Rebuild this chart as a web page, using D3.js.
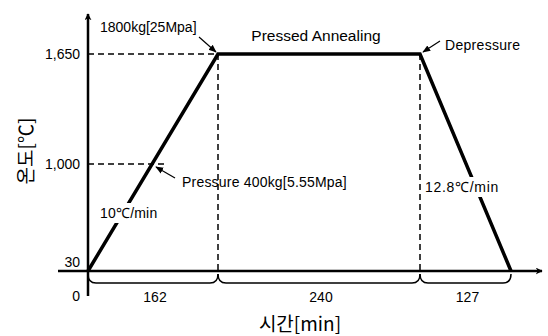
<!DOCTYPE html>
<html><head><meta charset="utf-8">
<script src="https://cdn.jsdelivr.net/npm/d3@7"></script>
<style>body{margin:0;background:#fff}svg{display:block}text{font-family:"Liberation Sans",Arial,sans-serif;fill:#000}</style>
</head><body><svg id="c" width="548" height="336"></svg>
<script>
// Data
const segments = [162, 240, 127];            // minutes per stage
const tempTicks = [30, 1000, 1650];          // °C tick values
const profileTime = [0, 162, 402, 529];      // cumulative time (min)
const profileTemp = [30, 1650, 1650, 30];    // temperature (°C)
const yTickLabels = ["30", "1,000", "1,650"];
const rampRates = ["10℃/min", "12.8℃/min"];

const svg = d3.select("#c");
// schematic (piecewise) scales
const x = d3.scaleLinear().domain(profileTime).range([88, 218, 420, 511]);
const y = d3.scaleLinear().domain(tempTicks).range([271, 164, 54]);

const defs = svg.append("defs");
defs.append("marker").attr("id","ah").attr("viewBox","0 0 10 10").attr("refX",9).attr("refY",5)
  .attr("markerWidth",7).attr("markerHeight",7).attr("orient","auto-start-reverse").attr("markerUnits","userSpaceOnUse")
  .append("path").attr("d","M0,0 L10,5 L0,10 L3,5 Z").attr("fill","#000");
defs.append("marker").attr("id","sa").attr("viewBox","0 0 10 10").attr("refX",9).attr("refY",5)
  .attr("markerWidth",8).attr("markerHeight",8).attr("orient","auto").attr("markerUnits","userSpaceOnUse")
  .append("path").attr("d","M0,1 L10,5 L0,9 Z").attr("fill","#000");

// dashed guides
const dash = svg.append("g").attr("stroke","#000").attr("stroke-width",1.5).attr("stroke-dasharray","6,4").attr("fill","none");
dash.append("line").attr("x1",x(0)).attr("x2",x(162)).attr("y1",y(1650)).attr("y2",y(1650));
const t1000 = d3.scaleLinear().domain([30,1650]).range([0,162])(1000);
dash.append("line").attr("x1",x(0)).attr("x2",x(t1000)).attr("y1",y(1000)).attr("y2",y(1000));
dash.append("line").attr("x1",x(162)).attr("x2",x(162)).attr("y1",y(1650)).attr("y2",y(30));
dash.append("line").attr("x1",x(402)).attr("x2",x(402)).attr("y1",y(1650)).attr("y2",y(30));

// axes
svg.append("line").attr("x1",x(0)).attr("x2",x(0)).attr("y1",296).attr("y2",14)
  .attr("stroke","#000").attr("stroke-width",2.5).attr("marker-end","url(#ah)");
svg.append("line").attr("x1",58).attr("x2",542).attr("y1",y(30)).attr("y2",y(30))
  .attr("stroke","#000").attr("stroke-width",2.5).attr("marker-end","url(#ah)");

// profile line
const pts = profileTime.map((t,i)=>[x(t), y(profileTemp[i])]);
svg.append("path").attr("d", d3.line()(pts)).attr("fill","none").attr("stroke","#000")
  .attr("stroke-width",3.5).attr("stroke-linejoin","miter");

// braces
const bounds = [0]; segments.forEach(s=>bounds.push(bounds[bounds.length-1]+s));
const y0 = y(30)+3, y1 = y(30)+12, r = 8;
segments.forEach((s,i)=>{
  const a = x(bounds[i]), b = x(bounds[i+1]);
  svg.append("path").attr("d",`M${a},${y0} Q${a},${y1} ${a+r},${y1} L${b-r},${y1} Q${b},${y1} ${b},${y0}`)
    .attr("fill","none").attr("stroke","#000").attr("stroke-width",1.5);
  svg.append("text").attr("x",(a+b)/2+2).attr("y",y(30)+31).attr("text-anchor","middle")
    .attr("font-size",14).text(s);
});

// y tick labels
tempTicks.forEach((v,i)=>{
  svg.append("text").attr("x",x(0)-8).attr("y", i===0 ? y(v)-4 : y(v)+5).attr("text-anchor","end")
    .attr("font-size",14).text(yTickLabels[i]);
});
svg.append("text").attr("x",x(0)-8).attr("y",y(30)+30).attr("text-anchor","end").attr("font-size",14).text("0");

// ramp labels with white boxes
function boxed(tx, ty, str, fs, ls){
  const g = svg.append("g");
  const t = g.append("text").attr("x",tx).attr("y",ty).attr("font-size",fs).attr("letter-spacing",ls).text(str);
  const bb = t.node().getBBox();
  g.insert("rect","text").attr("x",bb.x-3).attr("y",bb.y-2).attr("width",bb.width+6).attr("height",bb.height+4).attr("fill","#fff");
}
boxed(100, 218, rampRates[0], 14, 0.2);
boxed(425, 192, rampRates[1], 14, 0.7);

// annotations
svg.append("text").attr("x",100).attr("y",32).attr("font-size",14).text("1800kg[25Mpa]");
svg.append("line").attr("x1",199).attr("y1",37).attr("x2",216).attr("y2",52).attr("stroke","#000").attr("stroke-width",1.2).attr("marker-end","url(#sa)");
svg.append("text").attr("x",(x(162)+x(402))/2-3).attr("y",41).attr("text-anchor","middle").attr("font-size",15.5).text("Pressed Annealing");
svg.append("text").attr("x",445).attr("y",50).attr("font-size",14).attr("letter-spacing",0.3).text("Depressure");
svg.append("line").attr("x1",440).attr("y1",41).attr("x2",423).attr("y2",52).attr("stroke","#000").attr("stroke-width",1.2).attr("marker-end","url(#sa)");
svg.append("text").attr("x",182).attr("y",187).attr("font-size",14).attr("letter-spacing",0.2).text("Pressure 400kg[5.55Mpa]");
svg.append("line").attr("x1",175).attr("y1",178).attr("x2",156).attr("y2",167).attr("stroke","#000").attr("stroke-width",1.2).attr("marker-end","url(#sa)");

// axis titles
svg.append("text").attr("x",300).attr("y",331).attr("text-anchor","middle")
  .attr("style","font-family:'Noto Sans CJK KR',sans-serif;font-size:19px").text("시간[min]");
svg.append("text").attr("transform","translate(33,151) rotate(-90)").attr("text-anchor","middle")
  .attr("style","font-family:'Noto Sans CJK KR',sans-serif;font-size:19px").text("온도[℃]");
</script></body></html>
